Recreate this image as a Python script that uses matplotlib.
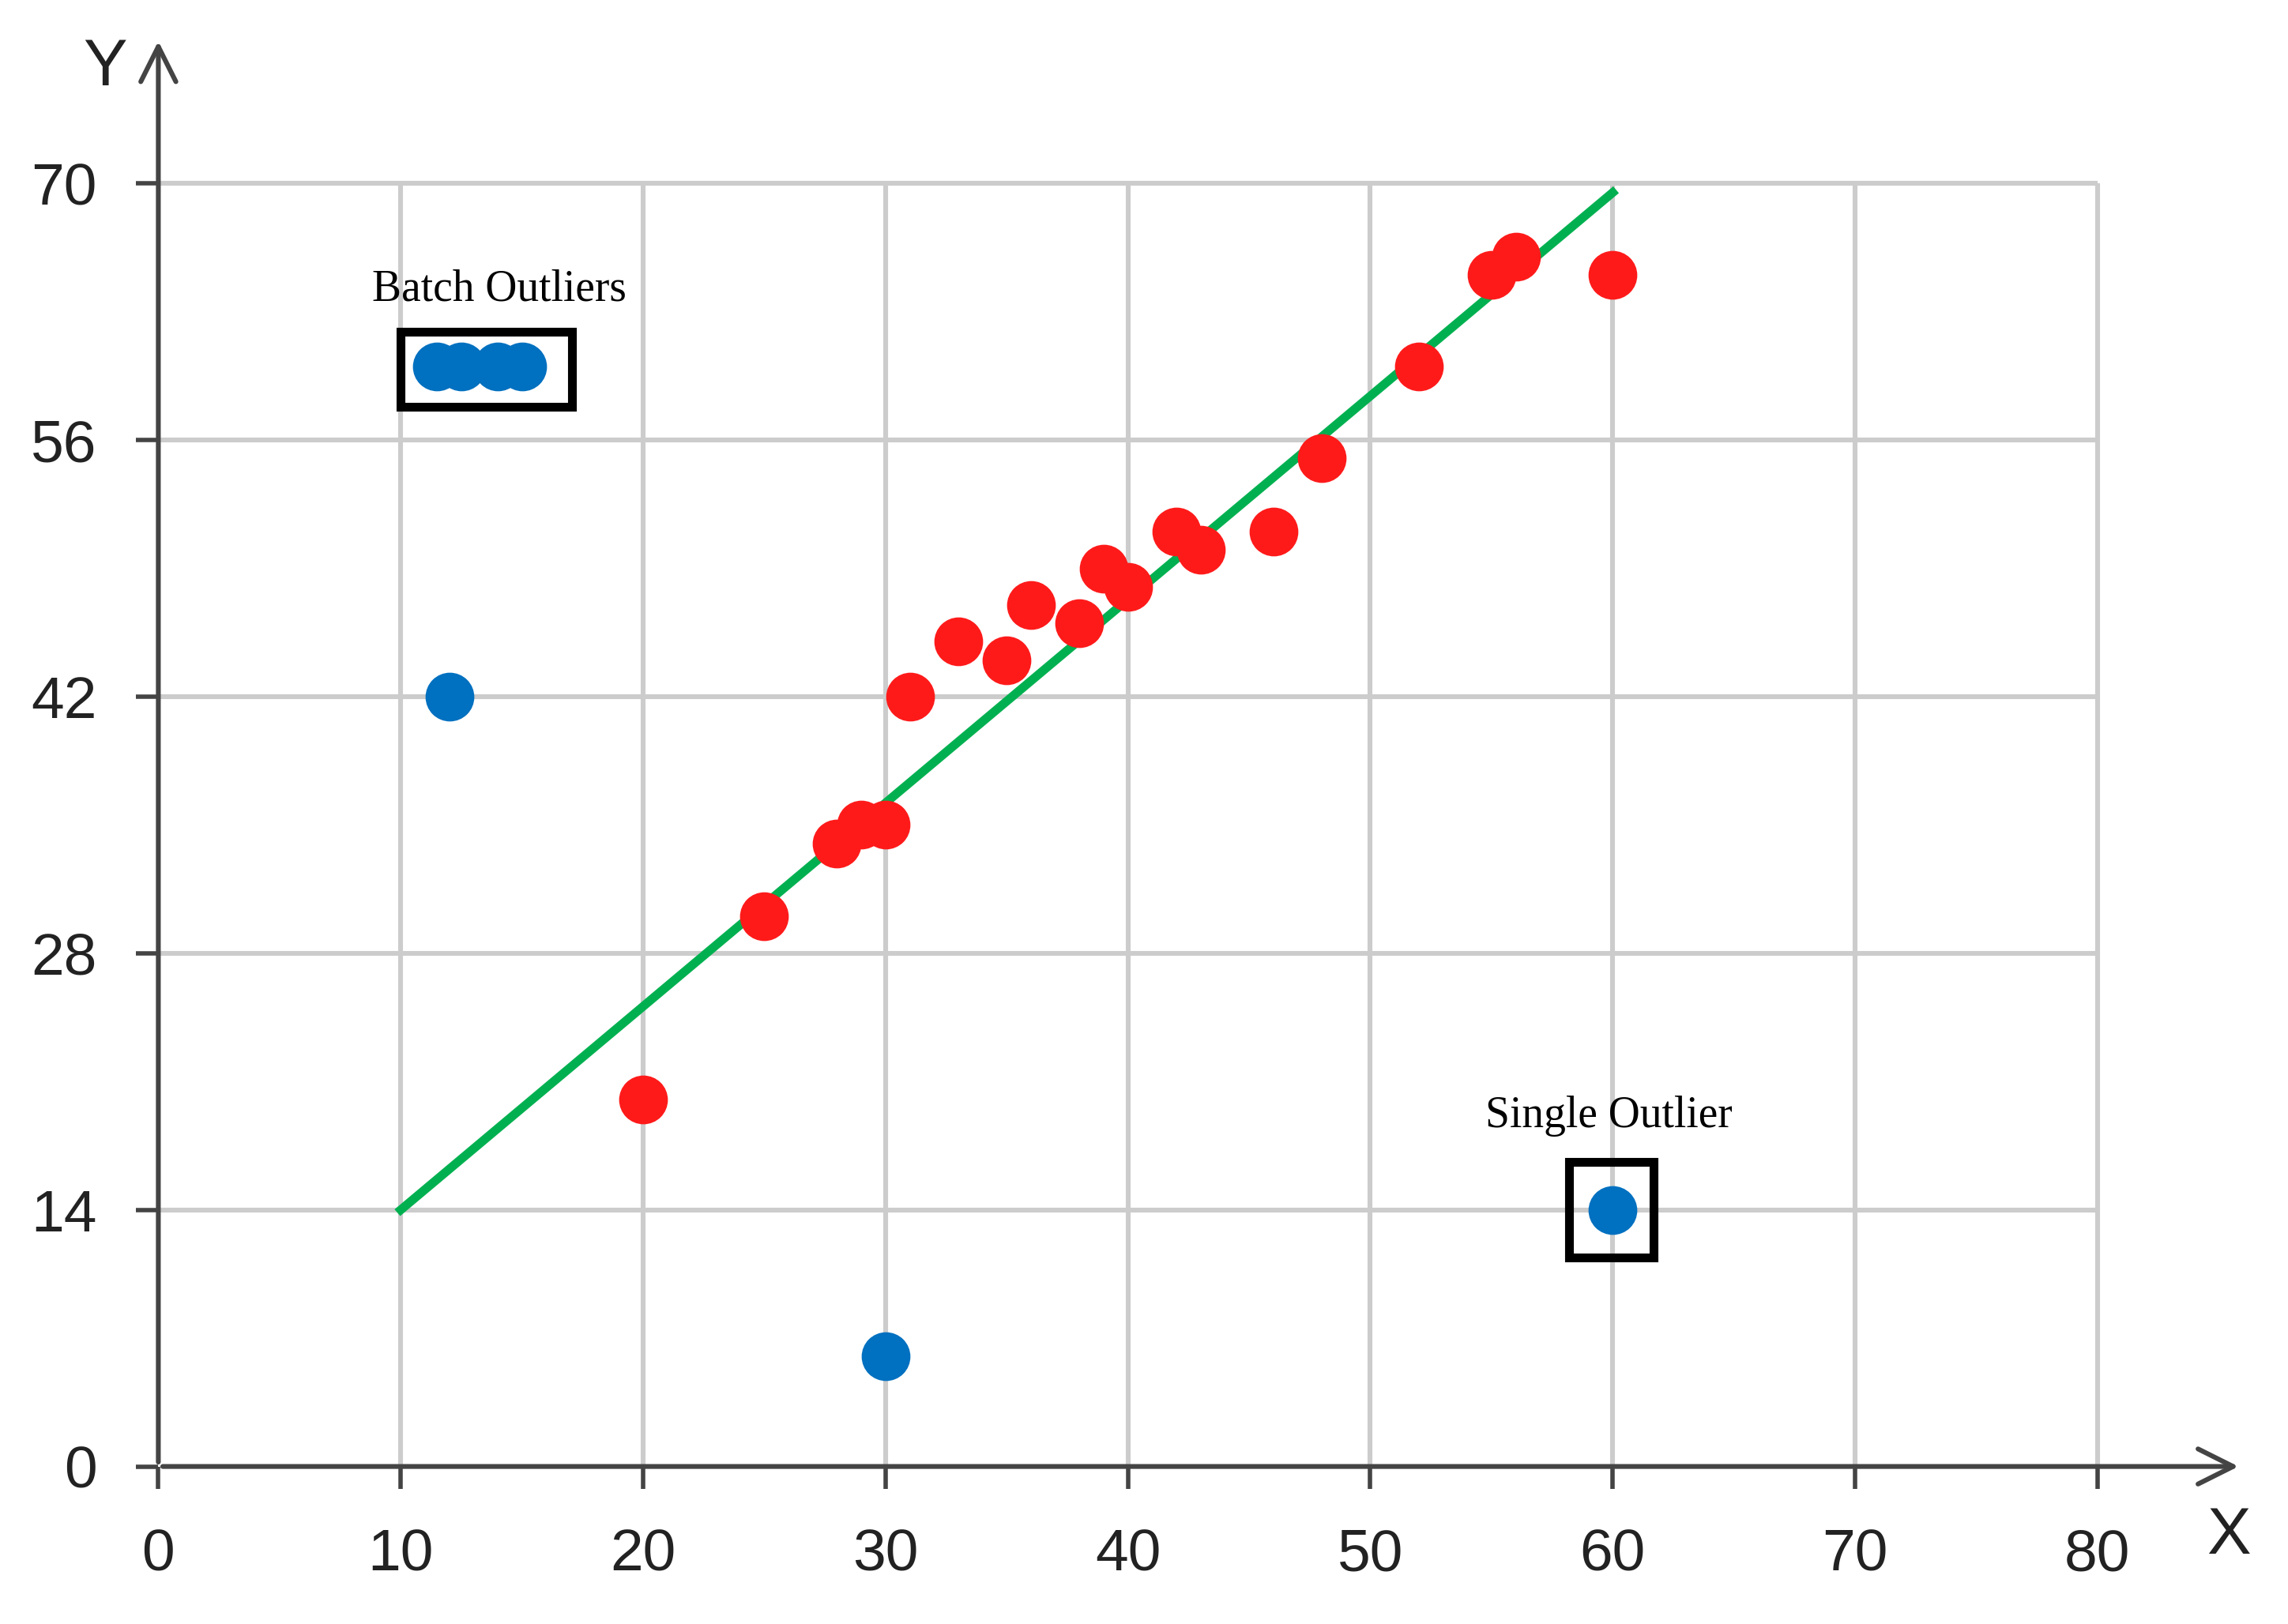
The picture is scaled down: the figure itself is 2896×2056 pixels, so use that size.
import matplotlib.pyplot as plt
from matplotlib.patches import Rectangle

# data
red_x = [20, 25, 28, 29, 30, 31, 33, 35, 36, 38, 39, 40, 42, 43, 46, 48, 52, 55, 56, 60]
red_y = [20, 30, 34, 35, 35, 42, 45, 44, 47, 46, 49, 48, 51, 50, 51, 55, 60, 65, 66, 65]
blue_x = [11.5, 12.5, 14, 15, 12, 30, 60]
blue_y = [60, 60, 60, 60, 42, 6, 14]
fit_x = [10, 60]
fit_y = [14, 69.5]
x_ticks = [0, 10, 20, 30, 40, 50, 60, 70, 80]
y_ticks = [0, 14, 28, 42, 56, 70]

plt.rcParams['font.family'] = ['Liberation Sans', 'DejaVu Sans']

fig = plt.figure(figsize=(14.48, 10.28), dpi=200)
ax = fig.add_axes([0.0692, 0.097, 0.9164, 0.886])
ax.set_xlim(0, 86.5)
ax.set_ylim(0, 78.5)
for s in ax.spines.values():
    s.set_visible(False)

# grid
ax.vlines(x_ticks[1:], 0, 70, color='#cccccc', lw=2.2, zorder=0)
ax.hlines(y_ticks[1:], 0, 80, color='#cccccc', lw=2.2, zorder=0)

# axes arrows
ax.annotate('', xy=(86, 0), xytext=(0, 0),
            arrowprops=dict(arrowstyle='->', color='#444444', lw=2.2, mutation_scale=40), annotation_clip=False)
ax.annotate('', xy=(0, 78), xytext=(0, 0),
            arrowprops=dict(arrowstyle='->', color='#444444', lw=2.2, mutation_scale=40), annotation_clip=False)

ax.set_xticks(x_ticks)
ax.set_yticks(y_ticks)
ax.tick_params(axis='both', labelsize=27, colors='#444444', width=2, length=10, labelcolor='#222222', pad=18)
ax.text(85.4, -3.8, 'X', fontsize=30, color='#222222', ha='center', va='center', clip_on=False)
ax.text(-2.2, 76.3, 'Y', fontsize=30, color='#222222', ha='center', va='center', clip_on=False)

ax.plot(fit_x, fit_y, color='#00b050', lw=4, zorder=2)
ax.scatter(red_x, red_y, s=450, color='#ff1a1a', zorder=3)
ax.scatter(blue_x, blue_y, s=450, color='#0070c0', zorder=3)

ax.add_patch(Rectangle((10, 57.8), 7.05, 4.1, fill=False, ec='black', lw=4, zorder=4))
ax.add_patch(Rectangle((58.2, 11.4), 3.5, 5.2, fill=False, ec='black', lw=4, zorder=4))
ax.text(14.05, 64.2, 'Batch Outliers', family='Liberation Serif', fontsize=20, ha='center', va='center')
ax.text(59.85, 19.1, 'Single Outlier', family='Liberation Serif', fontsize=20, ha='center', va='center')

fig.savefig('out.png')
